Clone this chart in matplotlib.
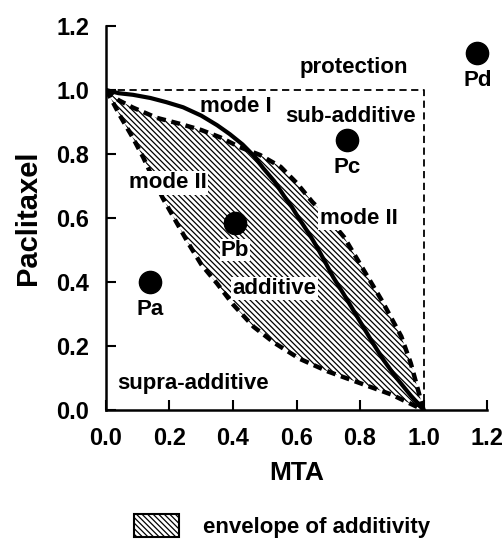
import matplotlib
matplotlib.use("Agg")
import matplotlib.pyplot as plt
from matplotlib.patches import Patch
import numpy as np

plt.rcParams['font.family'] = ['Liberation Sans', 'DejaVu Sans']
plt.rcParams['font.weight'] = 'bold'
plt.rcParams['hatch.linewidth'] = 0.9

# Isobologram curves
mode1_x = [0, 0.04, 0.085, 0.14, 0.19, 0.243, 0.30, 0.35, 0.39, 0.43, 0.465, 0.495, 0.53,
           0.56, 0.585, 0.61, 0.64, 0.664, 0.69, 0.715, 0.75, 0.78, 0.81, 0.84, 0.875,
           0.915, 0.96, 1.0]
mode1_y = [1, 0.99, 0.985, 0.975, 0.962, 0.946, 0.92, 0.89, 0.862, 0.83, 0.795, 0.756, 0.715,
           0.67, 0.635, 0.595, 0.55, 0.51, 0.463, 0.416, 0.36, 0.31, 0.26, 0.21, 0.155,
           0.10, 0.045, 0]

upper_x = [0, 0.04, 0.085, 0.16, 0.23, 0.30, 0.36, 0.42, 0.485, 0.55, 0.60, 0.65, 0.70,
           0.75, 0.81, 0.87, 0.93, 0.96, 1.0]
upper_y = [1, 0.968, 0.945, 0.913, 0.895, 0.875, 0.852, 0.822, 0.797, 0.76, 0.71, 0.65, 0.60,
           0.54, 0.44, 0.34, 0.23, 0.146, 0]

lower_x = [0, 0.02, 0.044, 0.085, 0.117, 0.15, 0.18, 0.22, 0.26, 0.30, 0.35, 0.40, 0.465,
           0.53, 0.61, 0.70, 0.80, 0.90, 1.0]
lower_y = [1, 0.965, 0.92, 0.85, 0.79, 0.72, 0.66, 0.59, 0.52, 0.455, 0.395, 0.33, 0.26,
           0.21, 0.16, 0.12, 0.084, 0.048, 0]

box_x = [0, 1, 1]
box_y = [1, 1, 0]

# combination points
pt_names = ['Pa', 'Pb', 'Pc', 'Pd']
pt_x = [0.139, 0.406, 0.76, 1.17]
pt_y = [0.40, 0.585, 0.844, 1.115]

ticks = [0.0, 0.2, 0.4, 0.6, 0.8, 1.0, 1.2]

fig = plt.figure(figsize=(5.04, 5.44), dpi=100)
ax = fig.add_axes([0.2103, 0.2463, 0.756, 0.7059])

# envelope of additivity
hatch = '\\' * 6
poly_x = np.concatenate([upper_x, lower_x[::-1]])
poly_y = np.concatenate([upper_y, lower_y[::-1]])
ax.fill(poly_x, poly_y, facecolor='white', edgecolor='black', hatch=hatch, linewidth=0, zorder=1)

ax.plot(box_x, box_y, color='black', lw=1.3, dashes=(4, 2.5), zorder=2)
ax.plot(upper_x, upper_y, color='black', lw=3.2, dashes=(2, 1.3), zorder=3)
ax.plot(lower_x, lower_y, color='black', lw=3.2, dashes=(2, 1.3), zorder=3)
ax.plot(mode1_x, mode1_y, color='black', lw=3, zorder=4, solid_joinstyle='round')

ax.plot(pt_x, pt_y, 'o', color='black', ms=16, zorder=6, clip_on=False)
for n, x, y in zip(pt_names, pt_x, pt_y):
    ax.text(x, y - 0.085, n, ha='center', va='center', fontsize=16, zorder=6,
            bbox=dict(facecolor='white', edgecolor='none', pad=0.5))

fs = 16
wb = dict(facecolor='white', edgecolor='none', pad=1)
ax.text(0.78, 1.07, 'protection', ha='center', va='center', fontsize=fs)
ax.text(0.41, 0.947, 'mode I', ha='center', va='center', fontsize=fs, zorder=5)
ax.text(0.77, 0.916, 'sub-additive', ha='center', va='center', fontsize=fs, zorder=5)
ax.text(0.196, 0.71, 'mode II', ha='center', va='center', fontsize=fs, zorder=5, bbox=wb)
ax.text(0.795, 0.60, 'mode II', ha='center', va='center', fontsize=fs, zorder=5, bbox=wb)
ax.text(0.53, 0.38, 'additive', ha='center', va='center', fontsize=fs, zorder=5, bbox=wb)
ax.text(0.275, 0.084, 'supra-additive', ha='center', va='center', fontsize=fs, zorder=5)

ax.set_xlim(0, 1.2)
ax.set_ylim(0, 1.2)
ax.set_xticks(ticks)
ax.set_yticks(ticks)
ax.set_xticklabels([f'{t:.1f}' for t in ticks])
ax.set_yticklabels([f'{t:.1f}' for t in ticks])
ax.tick_params(direction='in', length=7, width=1.5, pad=12, labelsize=17)
for s in ['top', 'right']:
    ax.spines[s].set_visible(False)
for s in ['left', 'bottom']:
    ax.spines[s].set_linewidth(1.8)

ax.set_xlabel('MTA', fontsize=19, fontweight='bold', labelpad=8)
ax.set_ylabel('Paclitaxel', fontsize=21, fontweight='bold', labelpad=10)

handle = Patch(facecolor='white', edgecolor='black', hatch=hatch, linewidth=1.5)
fig.legend([handle], ['envelope of additivity'], loc='center', bbox_to_anchor=(0.56, 0.033),
           frameon=False, fontsize=16, handlelength=2.0, handleheight=1.2, handletextpad=1.1,
           borderpad=0)

fig.savefig('out.png', dpi=100)
